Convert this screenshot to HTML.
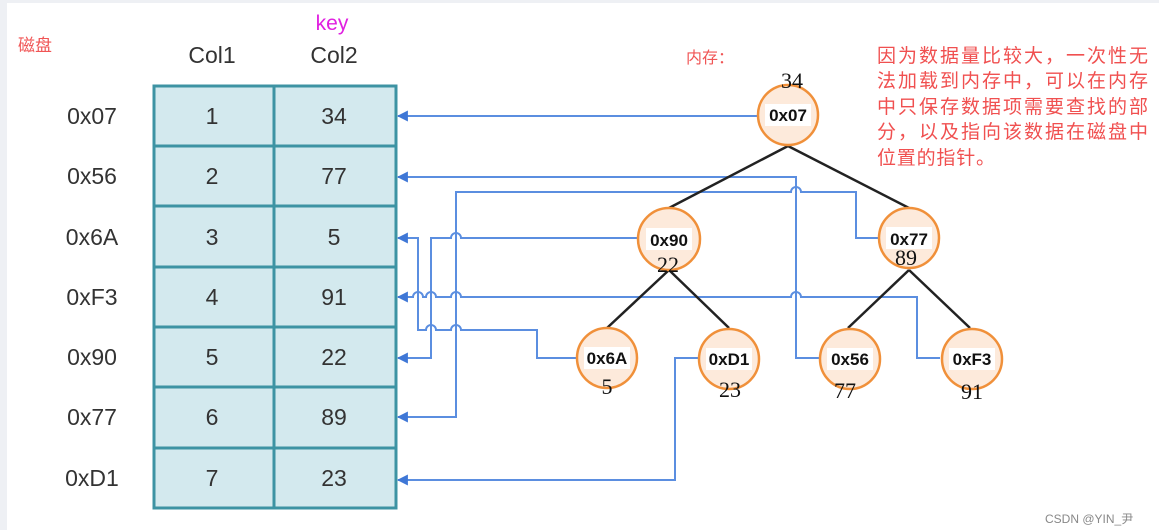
<!DOCTYPE html>
<html><head><meta charset="utf-8"><style>
html,body{margin:0;padding:0;background:#fff;}
svg{display:block;}
</style></head><body>
<svg width="1159" height="530" viewBox="0 0 1159 530" xmlns="http://www.w3.org/2000/svg">
<rect width="1159" height="530" fill="#eef0f4"/>
<rect x="7" y="3" width="1152" height="527" fill="#fff"/>
<defs>
<marker id="ar" viewBox="0 0 10 10" refX="9" refY="5" markerWidth="11" markerHeight="11" markerUnits="userSpaceOnUse" orient="auto"><path d="M0,0 L10,5 L0,10 z" fill="#3f77d6"/></marker>
</defs>
<g font-family="Liberation Sans, 'Noto Sans CJK SC', sans-serif">
<text x="18" y="51" font-size="17" fill="#f05555" font-family="'Noto Sans CJK SC', sans-serif">磁盘</text>
<text x="332" y="30" font-size="21" fill="#e020e0" text-anchor="middle">key</text>
<text x="212" y="63" font-size="23" fill="#333" text-anchor="middle">Col1</text>
<text x="334" y="63" font-size="23" fill="#333" text-anchor="middle">Col2</text>
<text x="686" y="63" font-size="16" fill="#f05555" font-family="'Noto Sans CJK SC', sans-serif">内存：</text>
<g font-size="19" fill="#f05050" font-family="'Noto Sans CJK SC', sans-serif">
<text x="877" y="62" textLength="271">因为数据量比较大，一次性无</text>
<text x="877" y="87" textLength="271">法加载到内存中，可以在内存</text>
<text x="877" y="113" textLength="271">中只保存数据项需要查找的部</text>
<text x="877" y="138" textLength="271">分，以及指向该数据在磁盘中</text>
<text x="877" y="164" textLength="118">位置的指针。</text>
</g>
<text x="1045" y="523" font-size="12" fill="#888">CSDN @YIN_尹</text>
</g>
<!-- table -->
<rect x="154" y="86" width="242" height="422" fill="#d3e9ee" stroke="#3d93a3" stroke-width="3"/>
<g stroke="#3d93a3" stroke-width="3">
<line x1="274" y1="86" x2="274" y2="508"/>
<line x1="154" y1="146" x2="396" y2="146"/>
<line x1="154" y1="206" x2="396" y2="206"/>
<line x1="154" y1="267" x2="396" y2="267"/>
<line x1="154" y1="327" x2="396" y2="327"/>
<line x1="154" y1="387" x2="396" y2="387"/>
<line x1="154" y1="448" x2="396" y2="448"/>
</g>
<g font-family="Liberation Sans, sans-serif" font-size="23" fill="#333" text-anchor="middle">
<text x="92" y="124">0x07</text><text x="212" y="124">1</text><text x="334" y="124">34</text>
<text x="92" y="184">0x56</text><text x="212" y="184">2</text><text x="334" y="184">77</text>
<text x="92" y="245">0x6A</text><text x="212" y="245">3</text><text x="334" y="245">5</text>
<text x="92" y="305">0xF3</text><text x="212" y="305">4</text><text x="334" y="305">91</text>
<text x="92" y="365">0x90</text><text x="212" y="365">5</text><text x="334" y="365">22</text>
<text x="92" y="425">0x77</text><text x="212" y="425">6</text><text x="334" y="425">89</text>
<text x="92" y="486">0xD1</text><text x="212" y="486">7</text><text x="334" y="486">23</text>
</g>
<!-- connectors -->
<g fill="none" stroke="#5b8ee0" stroke-width="2">
<path d="M758,116 H398" marker-end="url(#ar)"/>
<path d="M819,358 H796 V177 H398" marker-end="url(#ar)"/>
<path d="M878,238 H856 V192 H801 a5,5 0 0 0 -10,0 H456 V417 H398" marker-end="url(#ar)"/>
<path d="M637,238 H461 a5,5 0 0 0 -10,0 H431 V358 H398" marker-end="url(#ar)"/>
<path d="M577,358 H537 V330 H461 a5,5 0 0 0 -10,0 H436 a5,5 0 0 0 -10,0 H418 V238 H398" marker-end="url(#ar)"/>
<path d="M940,358 H917 V297 H801 a5,5 0 0 0 -10,0 H461 a5,5 0 0 0 -10,0 H436 a5,5 0 0 0 -10,0 H423 a5,5 0 0 0 -10,0 H398" marker-end="url(#ar)"/>
<path d="M700,358 H675 V480 H398" marker-end="url(#ar)"/>
</g>
<!-- tree edges -->
<g stroke="#222" stroke-width="2.5">
<line x1="788" y1="146" x2="669" y2="208"/>
<line x1="788" y1="146" x2="909" y2="208"/>
<line x1="669" y1="270" x2="607" y2="328"/>
<line x1="669" y1="270" x2="729" y2="328"/>
<line x1="909" y1="270" x2="848" y2="328"/>
<line x1="909" y1="270" x2="970" y2="328"/>
</g>
<g font-family="Liberation Sans, sans-serif" font-weight="bold" font-size="17" fill="#111" text-anchor="middle">
<g><circle cx="788" cy="115" r="30" fill="#fdeadb" stroke="#f0903a" stroke-width="2.5"/><rect x="765" y="104" width="46" height="22" fill="#fff"/><text x="788" y="121">0x07</text></g>
<g><circle cx="669" cy="239" r="31" fill="#fdeadb" stroke="#f0903a" stroke-width="2.5"/><rect x="646" y="228" width="46" height="22" fill="#fff"/><text x="669" y="246">0x90</text></g>
<g><circle cx="909" cy="238" r="30" fill="#fdeadb" stroke="#f0903a" stroke-width="2.5"/><rect x="886" y="227" width="46" height="22" fill="#fff"/><text x="909" y="245">0x77</text></g>
<g><circle cx="607" cy="358" r="30" fill="#fdeadb" stroke="#f0903a" stroke-width="2.5"/><rect x="584" y="347" width="46" height="22" fill="#fff"/><text x="607" y="364">0x6A</text></g>
<g><circle cx="729" cy="359" r="30" fill="#fdeadb" stroke="#f0903a" stroke-width="2.5"/><rect x="706" y="348" width="46" height="22" fill="#fff"/><text x="729" y="365">0xD1</text></g>
<g><circle cx="850" cy="359" r="30" fill="#fdeadb" stroke="#f0903a" stroke-width="2.5"/><rect x="827" y="348" width="46" height="22" fill="#fff"/><text x="850" y="365">0x56</text></g>
<g><circle cx="972" cy="359" r="30" fill="#fdeadb" stroke="#f0903a" stroke-width="2.5"/><rect x="949" y="348" width="46" height="22" fill="#fff"/><text x="972" y="365">0xF3</text></g>
</g>
<g font-family="Liberation Serif, serif" font-size="22" fill="#111" text-anchor="middle">
<text x="792" y="88">34</text>
<text x="668" y="272">22</text>
<text x="906" y="265">89</text>
<text x="607" y="394">5</text>
<text x="730" y="397">23</text>
<text x="845" y="398">77</text>
<text x="972" y="399">91</text>
</g>
</svg>
</body></html>
